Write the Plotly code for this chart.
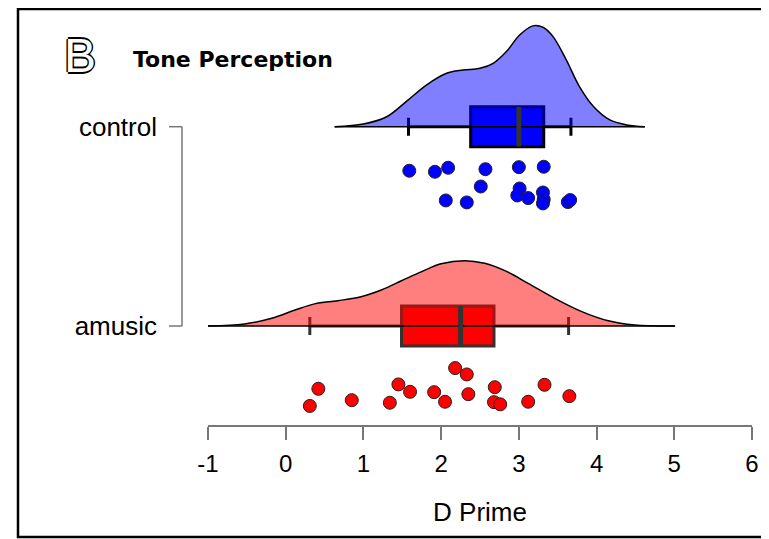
import plotly.graph_objects as go

# group positions on the y axis
groups = ["amusic", "control"]
group_pos = [0, 1]

control_x = [1.59, 1.92, 2.09, 2.57, 3.00, 3.32,
             2.51, 3.01, 3.31,
             2.06, 2.33, 2.98, 3.12, 3.32, 3.31, 3.63, 3.66]
control_jit = [0.779, 0.774, 0.794, 0.787, 0.797, 0.799,
               0.700, 0.690, 0.670,
               0.630, 0.620, 0.655, 0.642, 0.635, 0.615, 0.622, 0.632]
amusic_x = [0.42, 0.31, 0.85, 1.34, 1.45, 1.60, 1.91, 2.05, 2.18,
            2.33, 2.35, 2.69, 2.68, 2.76, 3.12, 3.33, 3.65]
amusic_jit = [-0.315, -0.401, -0.372, -0.385, -0.293, -0.330, -0.332, -0.380, -0.211,
              -0.243, -0.342, -0.307, -0.382, -0.393, -0.380, -0.295, -0.352]

# box stats
control_box = dict(lo=1.58, q1=2.38, med=3.00, q3=3.32, hi=3.67)
amusic_box = dict(lo=0.31, q1=1.49, med=2.25, q3=2.68, hi=3.64)

# half-violin outlines (height above the group line)
control_dx = [0.63, 1.00, 1.30, 1.55, 1.81, 2.07, 2.28, 2.50, 2.67, 2.84,
              3.01, 3.18, 3.31, 3.44, 3.61, 3.78, 3.96, 4.17, 4.39, 4.62]
control_dh = [0.0, 0.014, 0.050, 0.126, 0.209, 0.268, 0.284, 0.293, 0.318, 0.377,
              0.460, 0.506, 0.499, 0.452, 0.335, 0.201, 0.101, 0.034, 0.009, 0.0]
amusic_dx = [-1.00, -0.53, -0.18, 0.12, 0.37, 0.67, 0.97, 1.23, 1.49, 1.75,
             2.00, 2.30, 2.56, 2.82, 3.12, 3.46, 3.81, 4.15, 4.49, 5.01]
amusic_dh = [0.0, 0.010, 0.039, 0.080, 0.111, 0.127, 0.147, 0.181, 0.227, 0.273,
             0.312, 0.328, 0.315, 0.278, 0.214, 0.139, 0.072, 0.026, 0.005, 0.0]

xticks = [-1, 0, 1, 2, 3, 4, 5, 6]
xtick_text = ["-1", "0", "1", "2", "3", "4", "5", "6"]

# page has an 8px body margin, so figure coords are page coords minus 8
OFF = 8
W, H = 769, 531
ML, MR, MT, MB = 200, 25, 0, 114
pw = W - ML - MR
ph = H - MT - MB

def px_x(p):
    return (p - OFF - ML) / pw

def px_y(p):
    return (ph - (p - OFF)) / ph

fig = go.Figure()

sets = [
    (1, control_dx, control_dh, control_box, control_x, control_jit,
     "rgba(0,0,255,0.5)", "#0000ff", "#000000"),
    (0, amusic_dx, amusic_dh, amusic_box, amusic_x, amusic_jit,
     "rgba(255,0,0,0.5)", "#ff0000", "#333333"),
]

for pos, dx, dh, bx, px, jit, fillc, solid, boxline in sets:
    # density
    fig.add_trace(go.Scatter(
        x=dx, y=[pos + h for h in dh], mode="lines", fill="toself",
        fillcolor=fillc, line=dict(color="black", width=1.5, shape="spline"),
        hoverinfo="skip", showlegend=False))
    fig.add_trace(go.Scatter(
        x=[dx[0], dx[-1]], y=[pos, pos], mode="lines",
        line=dict(color="black", width=1.5), hoverinfo="skip", showlegend=False))
    # box
    fig.add_trace(go.Box(
        y=[pos], orientation="h", q1=[bx["q1"]], median=[bx["med"]],
        q3=[bx["q3"]], lowerfence=[bx["lo"]], upperfence=[bx["hi"]],
        width=0.2, whiskerwidth=0.45, fillcolor=solid,
        line=dict(color=boxline, width=3), boxpoints=False, showlegend=False))
    # median
    fig.add_trace(go.Scatter(
        x=[bx["med"], bx["med"]], y=[pos - 0.1, pos + 0.1], mode="lines",
        line=dict(color="#333333", width=5), hoverinfo="skip", showlegend=False))
    # dots
    fig.add_trace(go.Scatter(
        x=px, y=jit, mode="markers", cliponaxis=False,
        marker=dict(size=13, color=solid, line=dict(color="#222222", width=1)),
        showlegend=False))

# y axis bracket
axc = "#777777"
fig.add_shape(type="line", xref="paper", yref="y", x0=px_x(182), x1=px_x(182),
              y0=0, y1=1, line=dict(color=axc, width=1.5))
for p in group_pos:
    fig.add_shape(type="line", xref="paper", yref="y", x0=px_x(169), x1=px_x(182),
                  y0=p, y1=p, line=dict(color=axc, width=1.5))

# outer frame
fig.add_shape(type="rect", xref="paper", yref="paper",
              x0=px_x(18), x1=px_x(800), y0=px_y(537), y1=px_y(9),
              line=dict(color="black", width=2.5))

fig.add_annotation(text="B", xref="paper", yref="paper", x=px_x(80), y=px_y(56),
                   xanchor="center", yanchor="middle", showarrow=False,
                   font=dict(family="Liberation Sans", size=48, color="white",
                             shadow="1.6px 0 0 #000, -1.6px 0 0 #000, 0 1.6px 0 #000, 0 -1.6px 0 #000"))
fig.add_annotation(text="<b>Tone Perception</b>", xref="paper", yref="paper",
                   x=px_x(131), y=px_y(59), xanchor="left", yanchor="middle",
                   showarrow=False,
                   font=dict(family="DejaVu Sans", size=22, color="black"))

fig.update_layout(
    width=W, height=H, autosize=False,
    margin=dict(l=ML, r=MR, t=MT, b=MB),
    plot_bgcolor="white", paper_bgcolor="white",
    font=dict(family="Liberation Sans, Arial", color="black"),
)
fig.update_xaxes(
    range=[-1, 6], tickvals=xticks, ticktext=xtick_text,
    showgrid=False, zeroline=False,
    showline=True, linecolor=axc, linewidth=1.5,
    ticks="outside", ticklen=13, tickcolor=axc, tickwidth=1.5,
    tickfont=dict(size=24), ticklabelstandoff=3,
    title=dict(text="D Prime", standoff=27, font=dict(size=26)),
)
fig.update_yaxes(
    range=[-0.4967, 1.5956], tickvals=group_pos, ticktext=groups,
    showgrid=False, zeroline=False, showline=False, ticks="",
    tickfont=dict(size=26), ticklabelstandoff=50,
)

fig.write_html("out.html")
